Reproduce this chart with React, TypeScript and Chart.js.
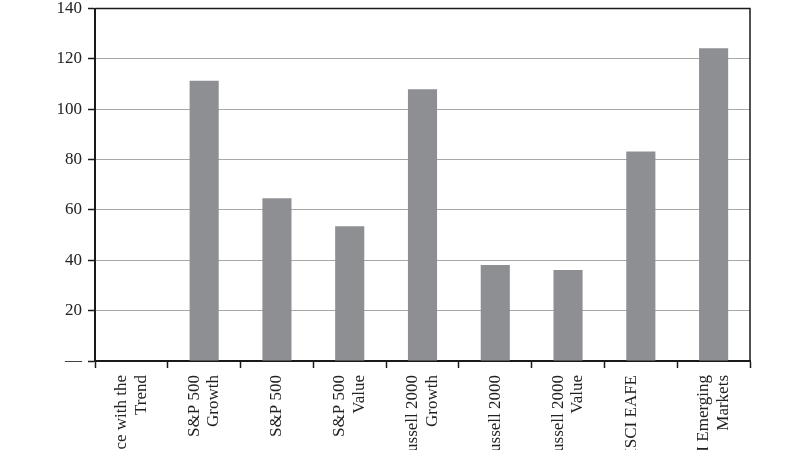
import React, { useEffect, useRef } from 'react';
import { Chart, registerables } from 'chart.js';

Chart.register(...registerables);

const categories: (string | string[])[] = [
  ['Performance with the', 'Trend'],
  ['S&P 500', 'Growth'],
  'S&P 500',
  ['S&P 500', 'Value'],
  ['Russell 2000', 'Growth'],
  'Russell 2000',
  ['Russell 2000', 'Value'],
  ['MSCI EAFE', ''],
  ['MSCI Emerging', 'Markets'],
];

const values: number[] = [0, 111.3, 64.6, 53.5, 107.9, 38.1, 36.1, 83.2, 124.2];

const yMin = 0;
const yMax = 140;
const yStep = 20;

const FONT = "'Liberation Serif', 'DejaVu Serif', serif";
const X_FONT_SIZE = 17;
const X_LINE_HEIGHT = 1.15;

const framePlugin = {
  id: 'frame',
  beforeDraw(chart: any) {
    const sc: any = chart.scales.x;
    const items: any = sc.getLabelItems();
    if (items && !items.__adj) {
      const lh = X_FONT_SIZE * X_LINE_HEIGHT;
      items.forEach((it: any) => {
        if (Array.isArray(it.label) && it.label.length === 2) {
          it.options.translation[0] -= lh / 2;
        }
      });
      items.__adj = true;
    }
  },
  afterDraw(chart: any) {
    const { ctx, chartArea } = chart;
    ctx.save();
    ctx.strokeStyle = '#1a1a1a';
    ctx.lineWidth = 1.5;
    ctx.beginPath();
    ctx.moveTo(chartArea.left, chartArea.top);
    ctx.lineTo(chartArea.right, chartArea.top);
    ctx.lineTo(chartArea.right, chartArea.bottom);
    ctx.stroke();
    ctx.restore();
  },
};

export default function App() {
  const ref = useRef<HTMLCanvasElement | null>(null);

  useEffect(() => {
    if (!ref.current) return;
    const chart = new Chart(ref.current, {
      type: 'bar',
      data: {
        labels: categories as any,
        datasets: [
          {
            data: values,
            backgroundColor: '#8e8f93',
            borderWidth: 0,
            barPercentage: 0.4,
            categoryPercentage: 1,
          },
        ],
      },
      options: {
        responsive: false,
        animation: false,
        events: [],
        layout: { padding: { top: 0, left: 0, right: 50, bottom: 0 } },
        plugins: {
          legend: { display: false },
          tooltip: { enabled: false },
        },
        scales: {
          x: {
            offset: true,
            afterFit: (scale: any) => {
              scale.height = 89;
            },
            grid: {
              display: true,
              drawOnChartArea: false,
              drawTicks: true,
              tickLength: 7,
              tickColor: '#1a1a1a',
              tickWidth: 1.5,
              offset: true,
            },
            border: { display: true, color: '#1a1a1a', width: 2 },
            ticks: {
              autoSkip: false,
              minRotation: 90,
              maxRotation: 90,
              padding: 7,
              color: '#222',
              font: { family: FONT, size: X_FONT_SIZE, lineHeight: X_LINE_HEIGHT },
            },
          },
          y: {
            min: yMin,
            max: yMax,
            afterFit: (scale: any) => {
              scale.width = 95;
            },
            grid: {
              color: '#a8a8a8',
              lineWidth: 1,
              drawTicks: true,
              tickLength: 7,
              tickColor: '#1a1a1a',
              tickWidth: 1.5,
            },
            border: { display: true, color: '#1a1a1a', width: 2 },
            ticks: {
              stepSize: yStep,
              padding: 6,
              color: '#222',
              font: { family: FONT, size: 17, lineHeight: 1 },
              callback: (v: any) => (Number(v) === 0 ? '—' : String(v)),
            },
          },
        },
      },
      plugins: [framePlugin],
    });
    return () => chart.destroy();
  }, []);

  return (
    <div style={{ position: 'absolute', left: 0, top: 0, width: 800, height: 450, overflow: 'hidden', background: '#fff' }}>
      <canvas ref={ref} width={800} height={456} style={{ display: 'block', position: 'absolute', left: 0, top: -6 }} />
    </div>
  );
}
